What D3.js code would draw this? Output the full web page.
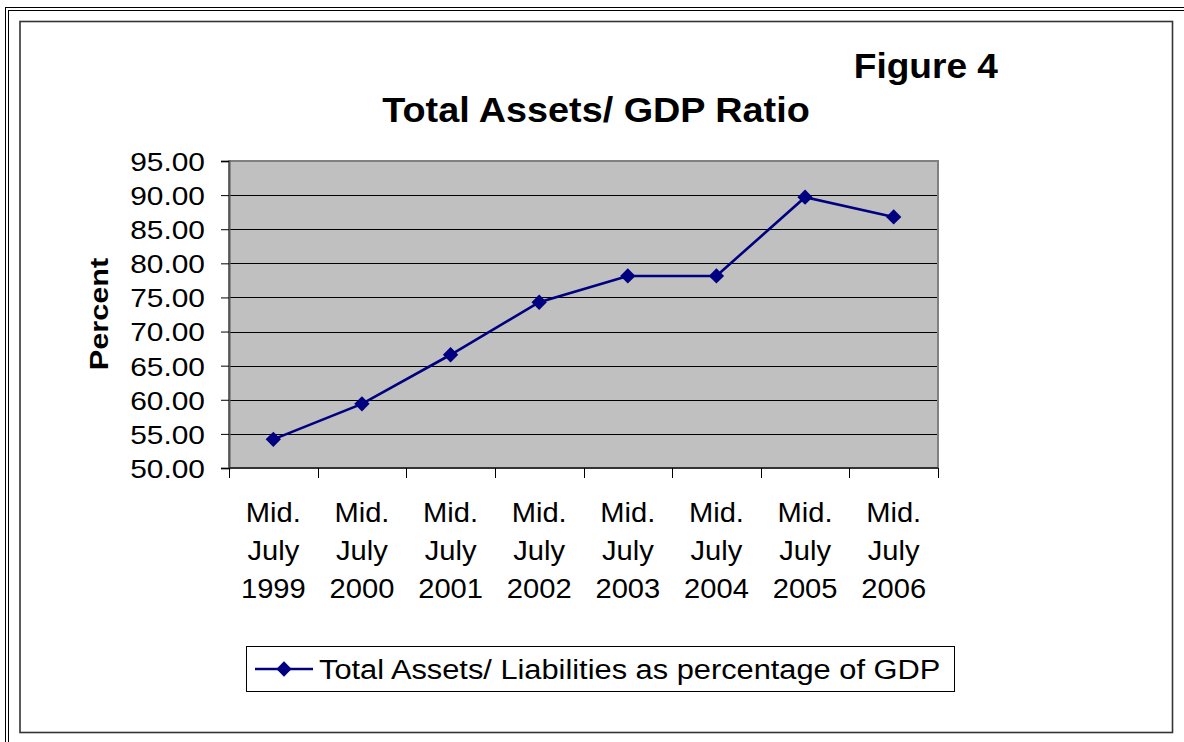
<!DOCTYPE html>
<html>
<head>
<meta charset="utf-8">
<script src="https://cdn.jsdelivr.net/npm/d3@7"></script>
<style>
  html, body { margin: 0; padding: 0; background: #fff; }
  svg { display: block; font-family: Arial, "Liberation Sans", sans-serif; }
</style>
</head>
<body>
<svg id="chart" width="1184" height="742"></svg>
<script>
// Total assets / liabilities as a percentage of GDP, mid-July each year
const years = ["1999", "2000", "2001", "2002", "2003", "2004", "2005", "2006"];
const categoryLines = years.map(y => ["Mid.", "July", y]);
const ratioValues = [54.2, 59.4, 66.6, 74.3, 78.15, 78.15, 89.7, 86.8];
const yTicks = [50, 55, 60, 65, 70, 75, 80, 85, 90, 95];
const seriesName = "Total Assets/ Liabilities as percentage of GDP";

const svg = d3.select("#chart");
const W = 1184, H = 742;

// Places a text at (x, y) with a slight horizontal widening of the glyphs
function placeText(sel, x, y, sx) {
  return sel.attr("x", 0).attr("y", 0).attr("transform", `translate(${x},${y}) scale(${sx},1)`);
}

// Outer double border and inner chart frame
svg.append("rect").attr("x", 5.5).attr("y", 7.5).attr("width", W + 10).attr("height", H + 10)
  .attr("fill", "none").attr("stroke", "#000").attr("stroke-width", 1);
svg.append("rect").attr("x", 8.5).attr("y", 10.5).attr("width", W + 10).attr("height", H + 10)
  .attr("fill", "none").attr("stroke", "#000").attr("stroke-width", 1);
svg.append("rect").attr("x", 20).attr("y", 21.5).attr("width", 1152.5).attr("height", 711)
  .attr("fill", "#fff").attr("stroke", "#333").attr("stroke-width", 1.6);

// Plot geometry
const plot = { left: 229, top: 161, right: 938, bottom: 468 };

const x = d3.scaleBand().domain(years).range([plot.left, plot.right]).paddingInner(0).paddingOuter(0);
const y = d3.scaleLinear().domain([50, 95]).range([plot.bottom, plot.top]);

// Plot background
svg.append("rect")
  .attr("x", plot.left).attr("y", plot.top)
  .attr("width", plot.right - plot.left).attr("height", plot.bottom - plot.top)
  .attr("fill", "#c0c0c0");

// Horizontal gridlines
svg.append("g").selectAll("line").data(yTicks.filter(v => v > 50 && v < 95)).join("line")
  .attr("x1", plot.left).attr("x2", plot.right)
  .attr("y1", d => Math.round(y(d)) + 0.5).attr("y2", d => Math.round(y(d)) + 0.5)
  .attr("stroke", "#000").attr("stroke-width", 1);

// Plot border
svg.append("rect")
  .attr("x", plot.left).attr("y", plot.top)
  .attr("width", plot.right - plot.left).attr("height", plot.bottom - plot.top)
  .attr("fill", "none").attr("stroke", "#808080").attr("stroke-width", 2);

// Y axis
const yAxis = d3.axisLeft(y).tickValues(yTicks).tickFormat(d3.format(".2f")).tickSize(8).tickPadding(24);
const gy = svg.append("g").attr("transform", `translate(${plot.left},0)`).call(yAxis);
gy.select(".domain").attr("stroke", "#555").attr("stroke-width", 2);
gy.selectAll(".tick line").attr("stroke", "#000");
gy.selectAll(".tick text")
  .attr("font-size", 26).attr("fill", "#000")
  .attr("font-family", "Arial, 'Liberation Sans', sans-serif").attr("dy", "0.36em")
  .each(function() { placeText(d3.select(this), -24, 0, 1.15); });

// X axis: ticks at category boundaries, labels centred in each band
const boundaries = years.map(d => x(d)).concat([plot.right]);
const gx = svg.append("g");
gx.append("line").attr("x1", plot.left).attr("x2", plot.right)
  .attr("y1", plot.bottom).attr("y2", plot.bottom).attr("stroke", "#333").attr("stroke-width", 2);
gx.selectAll("line.tick").data(boundaries).join("line").attr("class", "tick")
  .attr("x1", d => Math.round(d) + 0.5).attr("x2", d => Math.round(d) + 0.5)
  .attr("y1", plot.bottom).attr("y2", plot.bottom + 10)
  .attr("stroke", "#000").attr("stroke-width", 1);
const labels = gx.selectAll("text").data(years).join("text")
  .attr("text-anchor", "middle").attr("font-size", 28).attr("fill", "#000")
  .attr("transform", d => `translate(${x(d) + x.bandwidth() / 2},0) scale(1.04,1)`);
labels.each(function(d, i) {
  const t = d3.select(this);
  categoryLines[i].forEach((line, j) => {
    t.append("tspan").attr("x", 0).attr("y", 522 + j * 38).text(line);
  });
});

// Series line and diamond markers
const pts = years.map((d, i) => [x(d) + x.bandwidth() / 2, y(ratioValues[i])]);
svg.append("path").datum(pts)
  .attr("d", d3.line())
  .attr("fill", "none").attr("stroke", "#000080").attr("stroke-width", 2.6);
const diamond = d3.symbol().type(d3.symbolDiamond2).size(150);
svg.append("g").selectAll("path").data(pts).join("path")
  .attr("transform", d => `translate(${d[0]},${d[1]})`)
  .attr("d", diamond).attr("fill", "#000080");

// Titles
placeText(svg.append("text"), 998, 78, 1.06).attr("text-anchor", "end")
  .attr("font-size", 35).attr("font-weight", "bold").text("Figure 4");
placeText(svg.append("text"), 596, 122, 1.08).attr("text-anchor", "middle")
  .attr("font-size", 35).attr("font-weight", "bold").text("Total Assets/ GDP Ratio");

// Y axis title
svg.append("text").attr("transform", "translate(108,314) rotate(-90) scale(1.18,1)")
  .attr("text-anchor", "middle").attr("font-size", 26).attr("font-weight", "bold").text("Percent");

// Legend
const lg = svg.append("g");
lg.append("rect").attr("x", 246.5).attr("y", 646.5).attr("width", 708).attr("height", 45)
  .attr("fill", "#fff").attr("stroke", "#000").attr("stroke-width", 1);
lg.append("line").attr("x1", 255).attr("x2", 313).attr("y1", 669).attr("y2", 669)
  .attr("stroke", "#000080").attr("stroke-width", 2.6);
lg.append("path").attr("transform", "translate(284,669)").attr("d", diamond).attr("fill", "#000080");
placeText(lg.append("text"), 319, 679, 1.1).attr("font-size", 28).attr("fill", "#000").text(seriesName);
</script>
</body>
</html>
